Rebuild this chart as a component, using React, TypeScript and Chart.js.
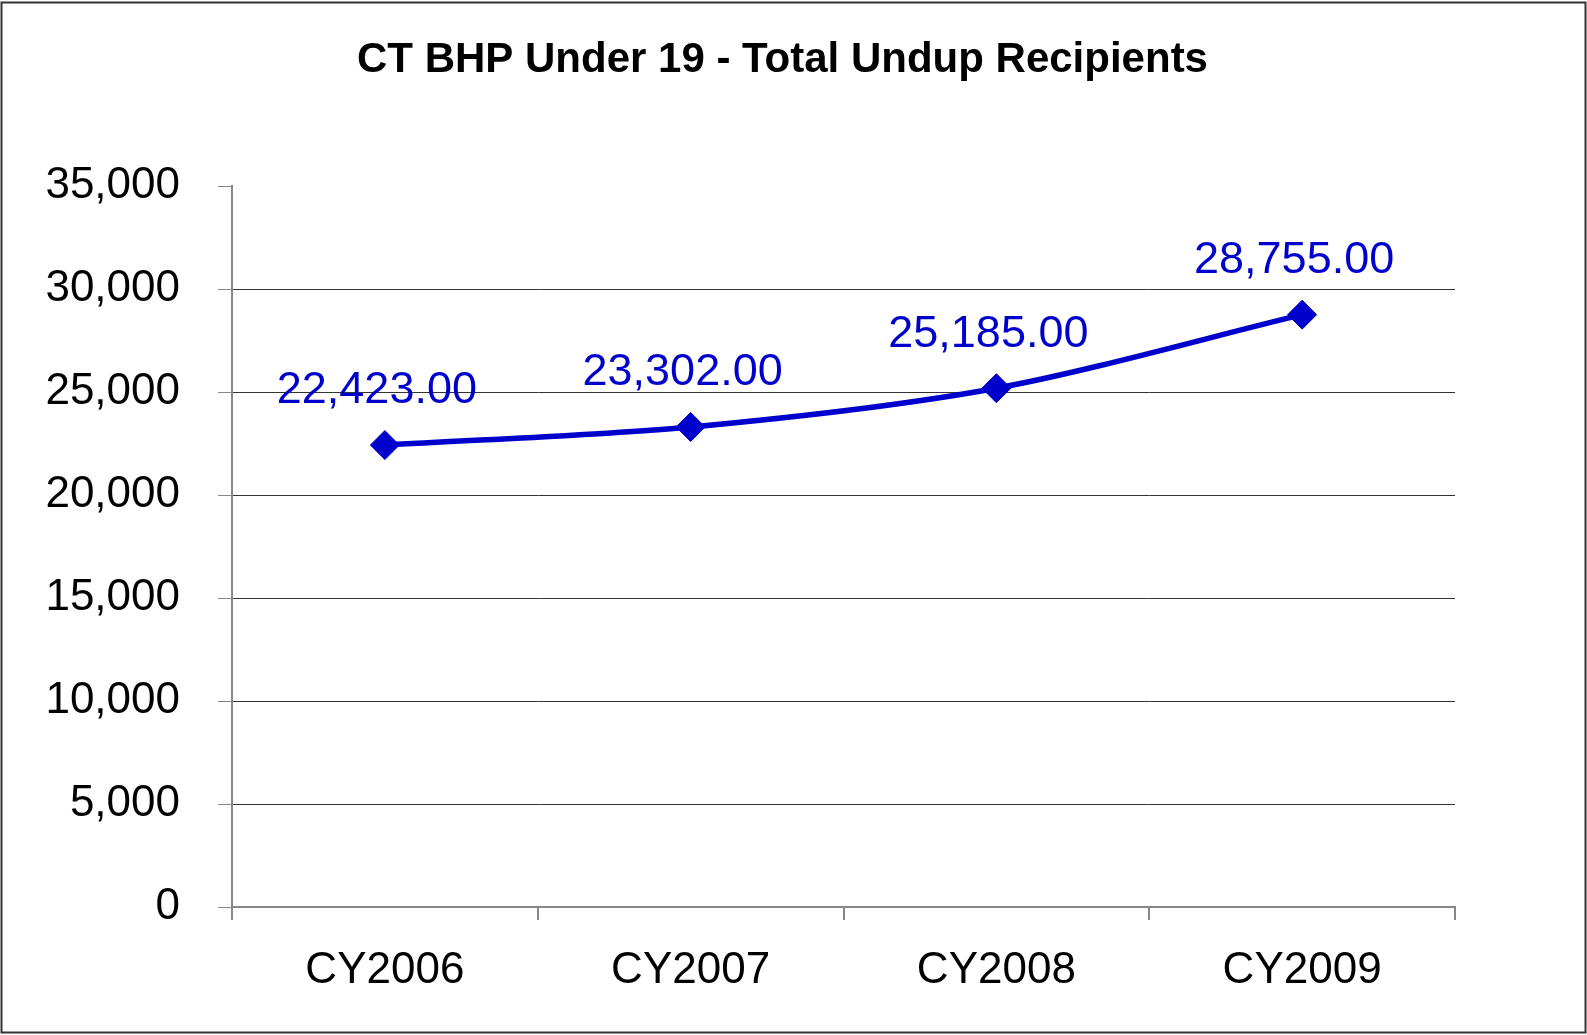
import React, { useEffect, useRef } from "react";
import { Chart, registerables } from "chart.js";

Chart.register(...registerables);

const categories = ["CY2006", "CY2007", "CY2008", "CY2009"];
const recipients = [22423, 23302, 25185, 28755];
const yTicksMax = 35000;
const yTickStep = 5000;
const chartTitle = "CT BHP Under 19 - Total Undup Recipients";

const FONT = '"Liberation Sans", Arial, sans-serif';
const BLUE = "#0000CC";

const bgBorder = {
  id: "bgBorder",
  beforeDraw(chart: any) {
    const ctx = chart.ctx;
    ctx.save();
    ctx.fillStyle = "#ffffff";
    ctx.fillRect(0, 0, chart.width, chart.height);
    ctx.restore();
  },
  afterDraw(chart: any) {
    const ctx = chart.ctx;
    ctx.save();
    ctx.strokeStyle = "#333333";
    ctx.lineWidth = 2;
    ctx.strokeRect(1.5, 2.5, 1584, 1030);
    ctx.restore();
  },
};

const dataLabels = {
  id: "dataLabels",
  afterDatasetsDraw(chart: any) {
    const ctx = chart.ctx;
    const meta = chart.getDatasetMeta(0);
    const ds = chart.data.datasets[0];
    ctx.save();
    ctx.font = `45px ${FONT}`;
    ctx.fillStyle = BLUE;
    ctx.textAlign = "center";
    ctx.textBaseline = "middle";
    meta.data.forEach((pt: any, i: number) => {
      const v = ds.data[i] as number;
      const txt = v.toLocaleString("en-US", { minimumFractionDigits: 2, maximumFractionDigits: 2 });
      ctx.fillText(txt, pt.x - 8, pt.y - 54);
    });
    ctx.restore();
  },
};

export default function App() {
  const ref = useRef<HTMLCanvasElement | null>(null);

  useEffect(() => {
    if (!ref.current) return;
    const chart = new Chart(ref.current, {
      type: "line",
      data: {
        labels: categories,
        datasets: [
          {
            data: recipients,
            borderColor: BLUE,
            backgroundColor: BLUE,
            borderWidth: 5.5,
            tension: 0.3,
            pointStyle: "rectRot",
            pointRadius: 14.5,
            pointHoverRadius: 14.5,
            pointBorderWidth: 1,
            pointBackgroundColor: BLUE,
            pointBorderColor: BLUE,
            yAxisID: "y",
          },
        ],
      },
      options: {
        responsive: false,
        animation: false,
        layout: { padding: { left: 0, right: 22, top: 0, bottom: 0 } },
        plugins: {
          legend: { display: false },
          tooltip: { enabled: false },
          title: {
            display: true,
            text: chartTitle,
            color: "#000000",
            font: { family: FONT, size: 42, weight: "bold", lineHeight: 1.2 },
            padding: { top: 35.5, bottom: 100.1 },
          },
        },
        scales: {
          x: {
            type: "category",
            offset: true,
            grid: {
              offset: true,
              drawOnChartArea: false,
              drawTicks: true,
              tickLength: 13,
              color: "#888888",
              lineWidth: 2,
            },
            border: { display: true, color: "#888888", width: 2 },
            ticks: {
              color: "#000000",
              font: { family: FONT, size: 44 },
              padding: 24,
              maxRotation: 0,
            },
            afterFit: (scale: any) => {
              scale.height = 128;
            },
          },
          y: {
            type: "linear",
            position: "left",
            min: 0,
            max: yTicksMax,
            ticks: {
              stepSize: yTickStep,
              color: "#000000",
              font: { family: FONT, size: 44 },
              padding: 38,
              callback: (v: any) => Number(v).toLocaleString("en-US"),
            },
            grid: {
              drawTicks: true,
              tickLength: 14,
              color: (c: any) => (c.tick && c.tick.value === yTicksMax ? "rgba(0,0,0,0)" : "#333333"),
              tickColor: "#888888",
              lineWidth: 1,
            },
            border: { display: true, color: "#888888", width: 2 },
            afterFit: (scale: any) => {
              scale.width = 232;
            },
          },
          y2: {
            type: "linear",
            position: "right",
            display: true,
            grid: { display: false, drawTicks: false },
            border: { display: false },
            ticks: { display: false },
            afterFit: (scale: any) => {
              scale.width = 110;
            },
          },
        },
      },
      plugins: [bgBorder, dataLabels],
    } as any);
    return () => chart.destroy();
  }, []);

  return (
    <div style={{ position: "fixed", left: 0, top: 0, width: 1587, height: 1035, background: "#fff" }}>
      <canvas ref={ref} width={1587} height={1035} style={{ width: 1587, height: 1035, display: "block" }} />
    </div>
  );
}
